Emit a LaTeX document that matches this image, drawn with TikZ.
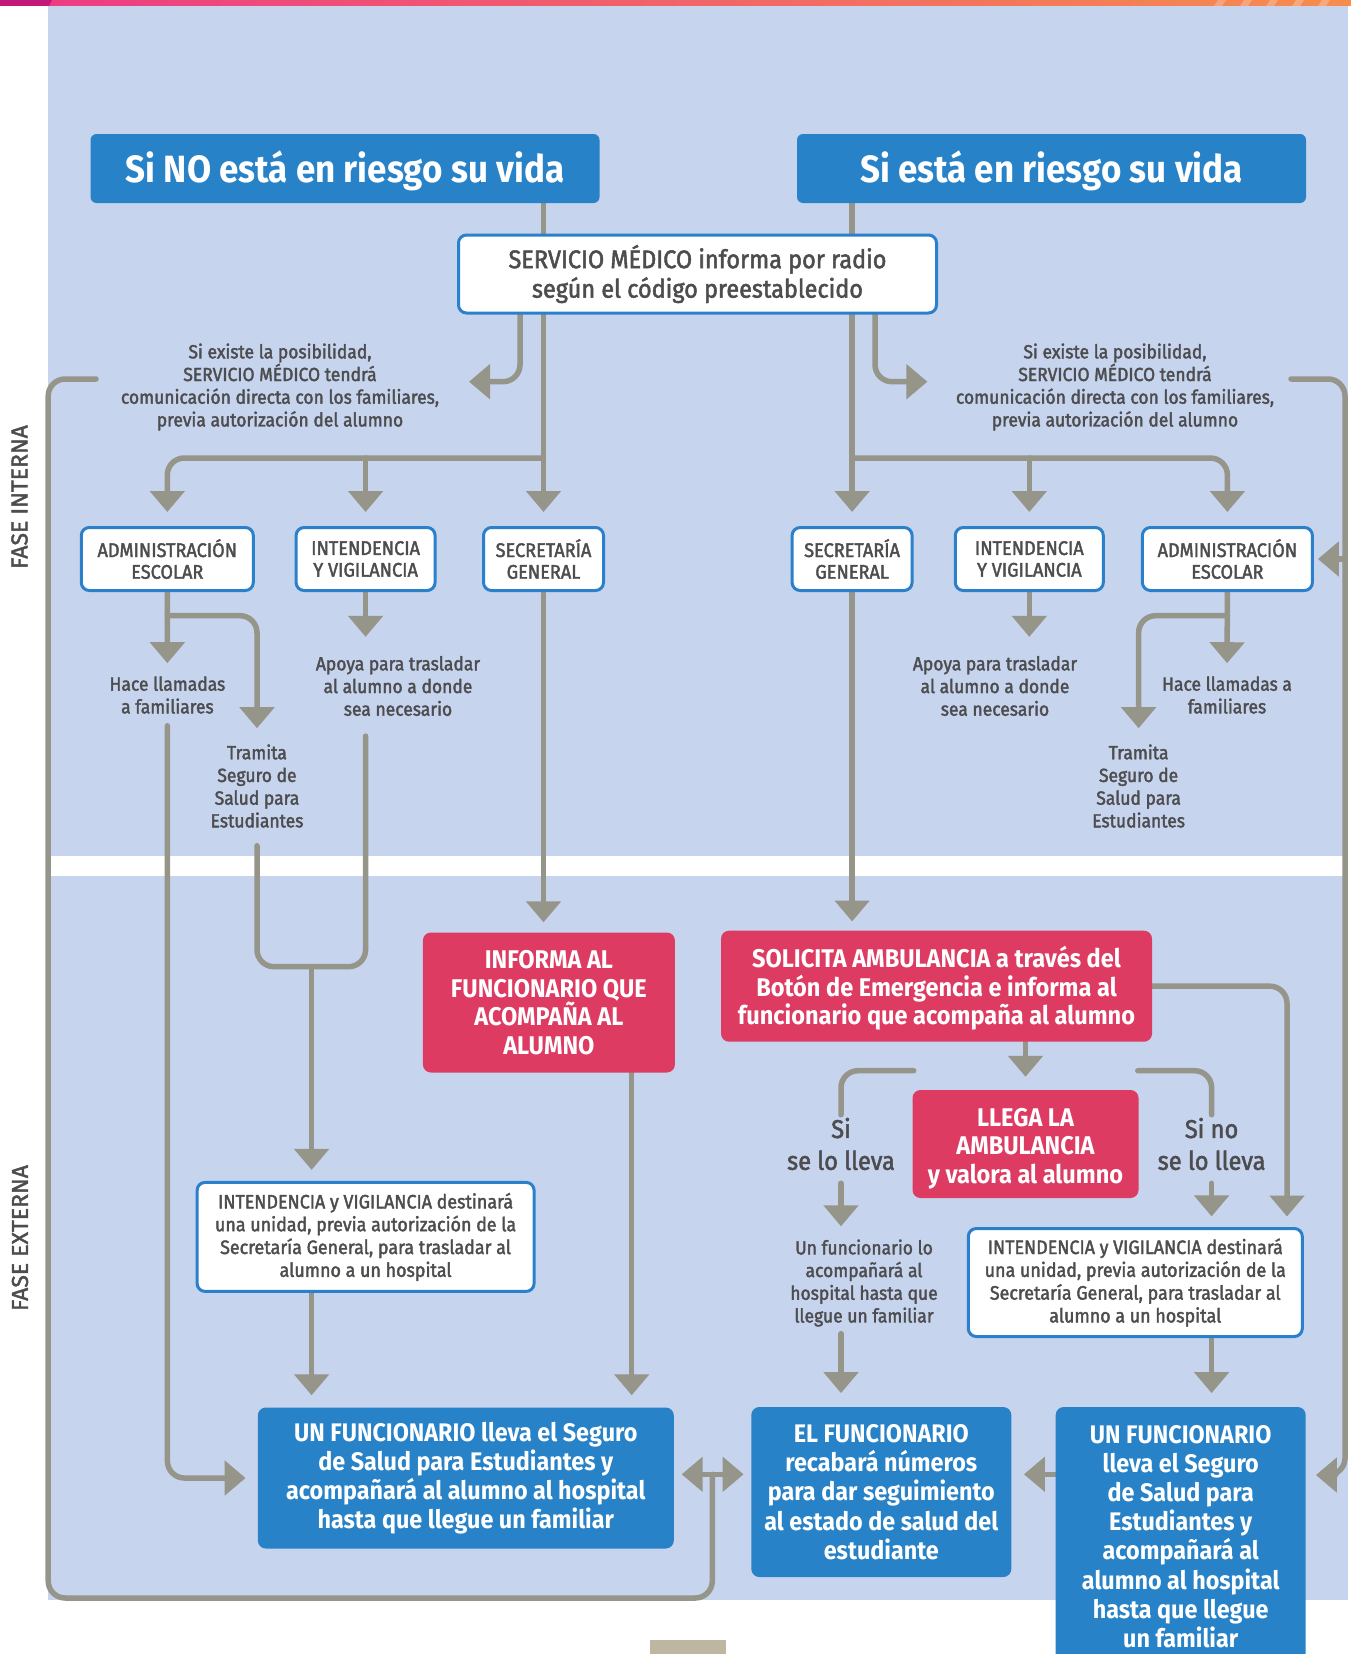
\documentclass[tikz,border=0pt]{standalone}
\usepackage{fontspec}
\setmainfont{Fira Sans}[FakeStretch=0.92]
\newfontfamily\medfont{Fira Sans}[FakeStretch=0.92,FakeBold=2]
\newfontfamily\phasefont{Fira Sans}[FakeBold=1.8]
\usetikzlibrary{arrows.meta}

\definecolor{panelblue}{HTML}{C6D4EE}
\definecolor{boxblue}{HTML}{2882C7}
\definecolor{lineblue}{HTML}{2A80CA}
\definecolor{boxred}{HTML}{DD3B62}
\definecolor{flowgray}{HTML}{96958A}
\definecolor{txtgray}{HTML}{4D4D4F}
\definecolor{barmagenta}{HTML}{C2187A}
\definecolor{barpink}{HTML}{EC3A86}
\definecolor{barorange}{HTML}{F68D4C}
\definecolor{tabtan}{HTML}{BDB6A3}

\pgfdeclarelayer{panel}
\pgfdeclarelayer{lines}
\pgfsetlayers{panel,lines,main}

\begin{document}
\begin{tikzpicture}[x=1pt, y=-1pt]
    % Define styles
    \tikzset{
        header/.style={fill=boxblue, rounded corners=6pt, minimum width=509pt, minimum height=69pt, inner sep=0pt, text height=36pt, text depth=8pt, text=white, font=\bfseries\fontsize{38}{42}\selectfont},
        radiobox/.style={draw=lineblue, line width=3pt, fill=white, rounded corners=8pt, minimum width=478pt, minimum height=78pt, inner sep=0pt, text=txtgray, align=center, font=\medfont\fontsize{25.5}{29.5}\selectfont},
        unitbox/.style={draw=lineblue, line width=3pt, fill=white, rounded corners=8pt, minimum height=63pt, inner sep=0pt, text=txtgray, align=center, font=\medfont\fontsize{19.7}{21.7}\selectfont},
        destbox/.style={unitbox, font=\medfont\fontsize{19.4}{22.8}\selectfont},
        redbox/.style={fill=boxred, rounded corners=8pt, inner sep=0pt, text=white, align=center, font=\bfseries\fontsize{25.6}{28.6}\selectfont},
        bluebox/.style={fill=boxblue, rounded corners=8pt, inner sep=0pt, text=white, align=center, font=\bfseries\fontsize{25.4}{29.2}\selectfont},
        note/.style={inner sep=0pt, text=txtgray, align=center, font=\medfont\fontsize{19}{22.7}\selectfont},
        choice/.style={inner sep=0pt, text=txtgray, align=center, font=\medfont\fontsize{25.7}{31.8}\selectfont},
        phase/.style={inner sep=0pt, text=txtgray, rotate=90, font=\phasefont\fontsize{23}{26}\selectfont},
        flowline/.style={draw=flowgray, line width=5.5pt, rounded corners=17pt, line cap=round},
        flowarrow/.style={flowline, -{Triangle[width=34pt,length=21pt]}, shorten >=12pt}
    }

    \useasboundingbox (0,0) rectangle (1351,1654);

    % Phase labels
    \node[phase] (faseInt) at (19.5,497) {FASE INTERNA};
    \node[phase] (faseExt) at (20,1238) {FASE EXTERNA};

    % Headers
    \node[header] (hdrL) at (345,168.5) {Si NO está en riesgo su vida};
    \node[header] (hdrR) at (1051.5,168.5) {Si está en riesgo su vida};

    % Radio notice
    \node[radiobox] (radio) at (697.5,274) {SERVICIO MÉDICO informa por radio\\según el código preestablecido};

    % Notes to the family
    \node[note] (noteL) at (280,387) {Si existe la posibilidad,\\SERVICIO MÉDICO tendrá\\comunicación directa con los familiares,\\previa autorización del alumno};
    \node[note] (noteR) at (1115,387) {Si existe la posibilidad,\\SERVICIO MÉDICO tendrá\\comunicación directa con los familiares,\\previa autorización del alumno};

    % Units
    \node[unitbox, minimum width=172pt] (admL) at (167.3,559) {ADMINISTRACIÓN\\ESCOLAR};
    \node[unitbox, minimum width=139pt] (intL) at (365.6,559) {INTENDENCIA\\Y VIGILANCIA};
    \node[unitbox, minimum width=120pt] (secL) at (543.5,559) {SECRETARÍA\\GENERAL};
    \node[unitbox, minimum width=120pt] (secR) at (852.1,559) {SECRETARÍA\\GENERAL};
    \node[unitbox, minimum width=148pt] (intR) at (1029.3,559) {INTENDENCIA\\Y VIGILANCIA};
    \node[unitbox, minimum width=170pt] (admR) at (1227.4,559) {ADMINISTRACIÓN\\ESCOLAR};

    % Tasks of the units
    \node[note] (callL) at (167.4,695) {Hace llamadas\\a familiares};
    \node[note] (apoyaL) at (398,686) {Apoya para trasladar\\al alumno a donde\\sea necesario};
    \node[note] (tramL) at (257,786) {Tramita\\Seguro de\\Salud para\\Estudiantes};
    \node[note] (apoyaR) at (995,686) {Apoya para trasladar\\al alumno a donde\\sea necesario};
    \node[note] (tramR) at (1138.6,786) {Tramita\\Seguro de\\Salud para\\Estudiantes};
    \node[note] (callR) at (1227,695) {Hace llamadas a\\familiares};

    % Fase externa
    \node[redbox, minimum width=252pt, minimum height=140pt] (informa) at (548.9,1002.5) {INFORMA AL\\FUNCIONARIO QUE\\ACOMPAÑA AL\\ALUMNO};
    \node[redbox, minimum width=431pt, minimum height=111pt] (solicita) at (936.5,986.2) {\rule{0pt}{26pt}SOLICITA AMBULANCIA a través del\\Botón de Emergencia e informa al\\funcionario que acompaña al alumno};
    \node[redbox, minimum width=226pt, minimum height=108pt] (llega) at (1025.5,1144) {\rule{0pt}{27.5pt}LLEGA LA\\AMBULANCIA\\y valora al alumno};
    \node[choice] (siLleva) at (841,1144) {Si\\se lo lleva};
    \node[choice] (noLleva) at (1211.6,1144) {Si no\\se lo lleva};
    \node[note] (acomp) at (864,1283) {Un funcionario lo\\acompañará al\\hospital hasta que\\llegue un familiar};
    \node[destbox, minimum width=337pt, minimum height=109pt] (desL) at (365.6,1236.9) {INTENDENCIA y VIGILANCIA destinará\\una unidad, previa autorización de la\\Secretaría General, para trasladar al\\alumno a un hospital};
    \node[destbox, minimum width=334pt, minimum height=108pt] (desR) at (1135.3,1282.5) {INTENDENCIA y VIGILANCIA destinará\\una unidad, previa autorización de la\\Secretaría General, para trasladar al\\alumno a un hospital};
    \node[bluebox, minimum width=416pt, minimum height=141pt] (funL) at (465.8,1478) {UN FUNCIONARIO lleva el Seguro\\de Salud para Estudiantes y\\acompañará al alumno al hospital\\hasta que llegue un familiar};
    \node[bluebox, minimum width=260pt, minimum height=170pt] (elFun) at (881.3,1492) {EL FUNCIONARIO\\recabará números\\para dar seguimiento\\al estado de salud del\\estudiante};
    \node[bluebox, minimum width=250pt, minimum height=259pt] (funR) at (1180.7,1536.5) {UN FUNCIONARIO\\lleva el Seguro\\de Salud para\\Estudiantes y\\acompañará al\\alumno al hospital\\hasta que llegue\\un familiar};

    % Bends and free ends
    \coordinate (jL) at (543.5,458);
    \coordinate (jR) at (852.1,458);
    \coordinate (bendL) at (520,0);
    \coordinate (bendR) at (875,0);
    \coordinate (tipNL) at (469,381.7);
    \coordinate (tipNR) at (927.4,381.7);
    \coordinate (loopL) at (96,379);
    \coordinate (loopR) at (1291,379);
    \coordinate (cornerBL) at (48.2,1598);
    \coordinate (cornerR) at (1345,1475);
    \coordinate (dblMid) at (712.3,1474.3);
    \coordinate (bAL) at (167.3,615.7);
    \coordinate (bAR) at (1227.4,615.7);
    \coordinate (jU) at (311.6,966.7);
    \coordinate (xInf) at (631.7,0);
    \coordinate (xSol) at (1287,0);
    \coordinate (sB) at (913.7,1070.7);
    \coordinate (nB) at (1137.8,1070.7);

    % Panel and top bar
    \begin{pgfonlayer}{panel}
        \fill[panelblue] (47.5,6) rectangle (1348,1600);
        \fill[white] (47.5,856) rectangle (1348,876);
        \shade[left color=barpink, right color=barorange] (0,0) rectangle (1351,6);
        \fill[barmagenta] (0,0) -- (52,0) -- (49,6) -- (0,6) -- cycle;
        \foreach \sx in {1214,1240,...,1318}
            \fill[white, opacity=0.25] (\sx,6) -- (\sx+4,0) -- (\sx+12,0) -- (\sx+8,6) -- cycle;
        \fill[tabtan] (650,1640) rectangle (726,1660);
    \end{pgfonlayer}

    \begin{pgfonlayer}{lines}
        % Headers to radio notice
        \draw[flowline] (hdrL.south -| secL) -- (radio.north -| secL);
        \draw[flowline] (hdrR.south -| secR) -- (radio.north -| secR);

        % Radio notice to units
        \draw[flowarrow, shorten >=14pt] (radio.south -| secL) -- (secL.north);
        \draw[flowarrow, shorten >=14pt] (jL) -| (admL.north);
        \draw[flowarrow, shorten >=14pt] (intL.north |- jL) -- (intL.north);
        \draw[flowarrow, shorten >=14pt] (radio.south -| secR) -- (secR.north);
        \draw[flowarrow, shorten >=14pt] (jR) -| (admR.north);
        \draw[flowarrow, shorten >=14pt] (intR.north |- jR) -- (intR.north);

        % Radio notice to the notes
        \draw[flowarrow, shorten >=0pt] (radio.south -| bendL) |- (tipNL);
        \draw[flowarrow, shorten >=0pt] (radio.south -| bendR) |- (tipNR);

        % Left unit tasks
        \draw[flowarrow, shorten >=13pt] (admL.south) -- (callL.north);
        \draw[flowarrow, shorten >=16pt] (bAL) -| (tramL.north);
        \draw[flowarrow, shorten >=19pt] (intL.south) -- (intL.south |- apoyaL.north);

        % Right unit tasks
        \draw[flowarrow, shorten >=13pt] (admR.south) -- (callR.north);
        \draw[flowarrow, shorten >=16pt] (bAR) -| (tramR.north);
        \draw[flowarrow, shorten >=19pt] (intR.south) -- (intR.south |- apoyaR.north);

        % Left side down to the hospital
        \draw[flowarrow, shorten <=12pt] (callL.south) |- (funL.west);
        \draw[flowline, shorten <=18pt, shorten >=20pt] (tramL.south) |- (jU) -| (intL.south |- apoyaL.south);
        \draw[flowarrow, shorten >=11pt] (jU) -- (jU |- desL.north);
        \draw[flowarrow] (desL.south -| jU) -- (funL.north -| jU);
        \draw[flowarrow, shorten >=10pt] (secL.south) -- (informa.north -| secL);
        \draw[flowarrow] (informa.south -| xInf) -- (funL.north -| xInf);

        % Family loop (left)
        \draw[flowline] (loopL) -| (cornerBL) -| (dblMid);
        \draw[flowarrow, shorten >=7.7pt] (dblMid) -- (funL.east |- dblMid);
        \draw[flowarrow, shorten >=7.5pt] (dblMid) -- (elFun.west |- dblMid);

        % Family loop (right)
        \draw[flowarrow, shorten >=10pt] (loopR) -| (cornerR) -- (funR.east |- cornerR);
        \draw[flowarrow, shorten >=4pt] (admR.east -| cornerR) -- (admR.east);

        % Ambulance branch
        \draw[flowarrow, shorten >=9pt] (secR.south) -- (solicita.north -| secR);
        \draw[flowarrow, shorten >=10.5pt] (solicita.east) -| (xSol |- desR.north);
        \draw[flowarrow, shorten >=13pt] (llega.north |- solicita.south) -- (llega.north);
        \draw[flowline, shorten >=3pt] (sB) -| (siLleva.north);
        \draw[flowline, shorten >=3pt] (nB) -| (noLleva.north);
        \draw[flowarrow, shorten <=13pt, shorten >=13pt] (siLleva.south) -- (siLleva.south |- acomp.north);
        \draw[flowarrow, shorten <=7pt, shorten >=13.7pt] (acomp.south -| siLleva) -- (elFun.north -| siLleva);
        \draw[flowarrow, shorten <=13pt, shorten >=10.6pt] (noLleva.south) -- (noLleva.south |- desR.north);
        \draw[flowarrow, shorten >=13.7pt] (desR.south -| noLleva) -- (funR.north -| noLleva);
        \draw[flowarrow, shorten >=12.4pt] (funR.west |- dblMid) -- (elFun.east |- dblMid);
    \end{pgfonlayer}
\end{tikzpicture}
\end{document}
